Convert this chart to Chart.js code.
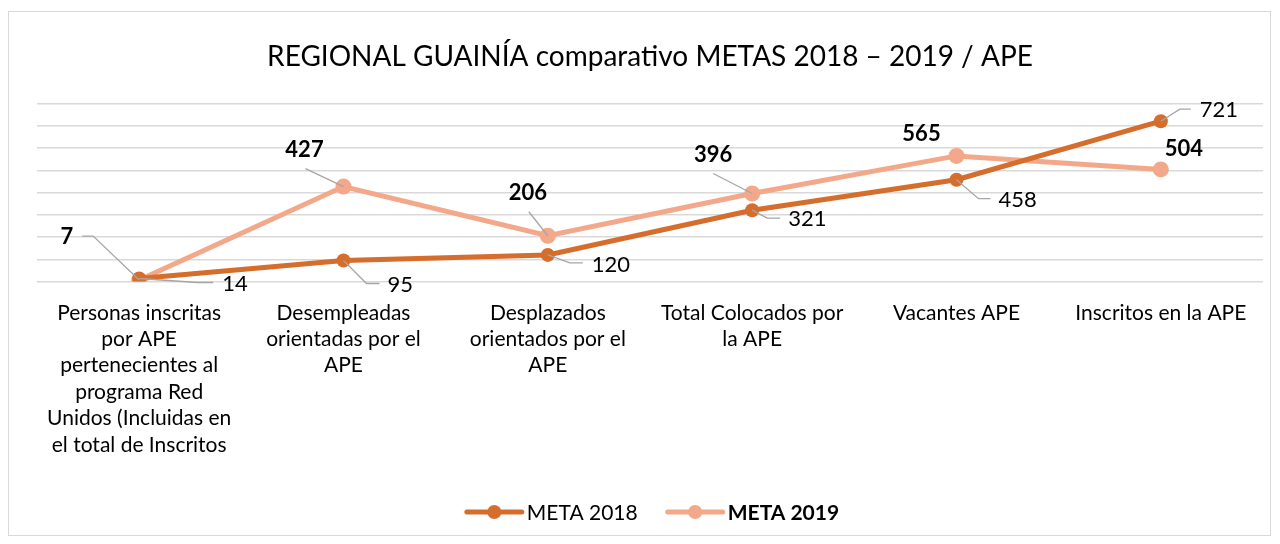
<!DOCTYPE html>
<html>
<head>
<meta charset="utf-8">
<script src="https://cdn.jsdelivr.net/npm/chart.js@4"></script>
<style>
  body { margin: 0; background: #fff; }
  #wrap { width: 1280px; height: 544px; position: relative; }
</style>
</head>
<body>
<div id="wrap"><canvas id="metasChart" width="1280" height="544"></canvas></div>
<script>
// Datos del gráfico
const categorias = [
    ['Personas inscritas', 'por APE', 'pertenecientes al', 'programa Red', 'Unidos (Incluidas en', 'el total de Inscritos'],
    ['Desempleadas', 'orientadas por el', 'APE'],
    ['Desplazados', 'orientados por el', 'APE'],
    ['Total Colocados por', 'la APE'],
    ['Vacantes APE'],
    ['Inscritos en la APE']
];
const meta2018 = [14, 95, 120, 321, 458, 721];
const meta2019 = [7, 427, 206, 396, 565, 504];
const nombresSeries = ['META 2018', 'META 2019'];

const colores = ['#D56D2D', '#F3A88A'];
const fuente = 'Lato, "Open Sans", sans-serif';

// Posición de las etiquetas respecto al punto: [dx texto, dy texto, alineación, dx codo, dy codo, dx fin]
const etiquetas2018 = [
    [83, 5, 'left', 58, 4, 74],
    [44, 24, 'left', 23, 23, 36],
    [44, 10, 'left', 22, 8, 35],
    [36, 9, 'left', 15, 8, 28],
    [42, 20, 'left', 22, 19, 34],
    [39, -11, 'left', 19, -12, 30]
];
const etiquetas2019 = [
    [-66, -43, 'right', -46, -44, -57],
    [-39, -37, 'center', -38, -18, null],
    [-20, -43, 'center', -19, -24, null],
    [-39, -39, 'center', -39, -20, null],
    [-35, -22, 'center', null, null, null],
    [23, -21, 'center', null, null, null]
];

const pluginEtiquetas = {
    id: 'etiquetas',
    beforeDraw(chart) {
        const ctx = chart.ctx;
        ctx.save();
        ctx.strokeStyle = '#d9d9d9';
        ctx.lineWidth = 1;
        ctx.strokeRect(8.5, 11.5, 1262, 524);
        ctx.restore();
    },
    afterDatasetsDraw(chart) {
        const ctx = chart.ctx;
        const conf = [etiquetas2018, etiquetas2019];
        ctx.save();
        chart.data.datasets.forEach((ds, i) => {
            const meta = chart.getDatasetMeta(i);
            meta.data.forEach((pt, j) => {
                const c = conf[i][j];
                if (c[3] !== null) {
                    ctx.strokeStyle = '#a6a6a6';
                    ctx.lineWidth = 1.3;
                    ctx.beginPath();
                    ctx.moveTo(pt.x, pt.y);
                    ctx.lineTo(pt.x + c[3], pt.y + c[4]);
                    if (c[5] !== null) ctx.lineTo(pt.x + c[5], pt.y + c[4]);
                    ctx.stroke();
                }
            });
        });
        chart.data.datasets.forEach((ds, i) => {
            const meta = chart.getDatasetMeta(i);
            meta.data.forEach((pt, j) => {
                const c = conf[i][j];
                ctx.fillStyle = '#000';
                ctx.font = (i === 1 ? 'bold ' : '') + '22px ' + fuente;
                ctx.textAlign = c[2];
                ctx.textBaseline = 'middle';
                ctx.fillText(String(ds.data[j]), pt.x + c[0], pt.y + c[1]);
            });
        });
        ctx.restore();
    },
    afterDraw(chart) {
        // Leyenda propia (META 2019 en negrita)
        const ctx = chart.ctx;
        ctx.save();
        ctx.textBaseline = 'middle';
        ctx.textAlign = 'left';
        const y = 512;
        const anchos = nombresSeries.map((n, i) => {
            ctx.font = (i === 1 ? 'bold ' : '') + '21px ' + fuente;
            return 55 + 5 + ctx.measureText(n).width;
        });
        const total = anchos[0] + anchos[1] + 30;
        let x = 653 - total / 2;
        nombresSeries.forEach((n, i) => {
            ctx.strokeStyle = colores[i];
            ctx.lineWidth = 5;
            ctx.lineCap = 'round';
            ctx.beginPath();
            ctx.moveTo(x, y);
            ctx.lineTo(x + 55, y);
            ctx.stroke();
            ctx.fillStyle = colores[i];
            ctx.beginPath();
            ctx.arc(x + 27.5, y, 7, 0, Math.PI * 2);
            ctx.fill();
            ctx.fillStyle = '#000';
            ctx.font = (i === 1 ? 'bold ' : '') + '21px ' + fuente;
            ctx.fillText(n, x + 60, y + 1);
            x += anchos[i] + 30;
        });
        ctx.restore();
    }
};

new Chart(document.getElementById('metasChart'), {
    type: 'line',
    data: {
        labels: categorias,
        datasets: [
            {
                label: nombresSeries[0],
                data: meta2018,
                borderColor: colores[0],
                backgroundColor: colores[0],
                borderWidth: 5,
                pointRadius: 7,
                pointBorderWidth: 0,
                tension: 0
            },
            {
                label: nombresSeries[1],
                data: meta2019,
                borderColor: colores[1],
                backgroundColor: colores[1],
                borderWidth: 5,
                pointRadius: 8,
                pointBorderWidth: 0,
                tension: 0
            }
        ]
    },
    options: {
        responsive: false,
        animation: false,
        layout: {
            padding: { left: 37, right: 17, top: 0, bottom: 68 }
        },
        plugins: {
            legend: { display: false },
            tooltip: { enabled: false },
            title: {
                display: true,
                text: 'REGIONAL GUAINÍA comparativo METAS 2018 – 2019 / APE',
                color: '#000',
                font: { family: fuente, size: 28, weight: 'normal' },
                padding: { top: 40, bottom: 30 }
            }
        },
        scales: {
            x: {
                offset: true,
                grid: { display: false, drawTicks: false },
                border: { display: false },
                ticks: {
                    color: '#000',
                    maxRotation: 0,
                    autoSkip: false,
                    padding: 18,
                    font: { family: fuente, size: 21, lineHeight: 1.257 }
                }
            },
            y: {
                min: 0,
                max: 800,
                grid: { color: '#d9d9d9', lineWidth: 1.5, drawTicks: false },
                border: { display: false },
                ticks: { display: false, stepSize: 100 }
            }
        }
    },
    plugins: [pluginEtiquetas]
});
</script>
</body>
</html>
